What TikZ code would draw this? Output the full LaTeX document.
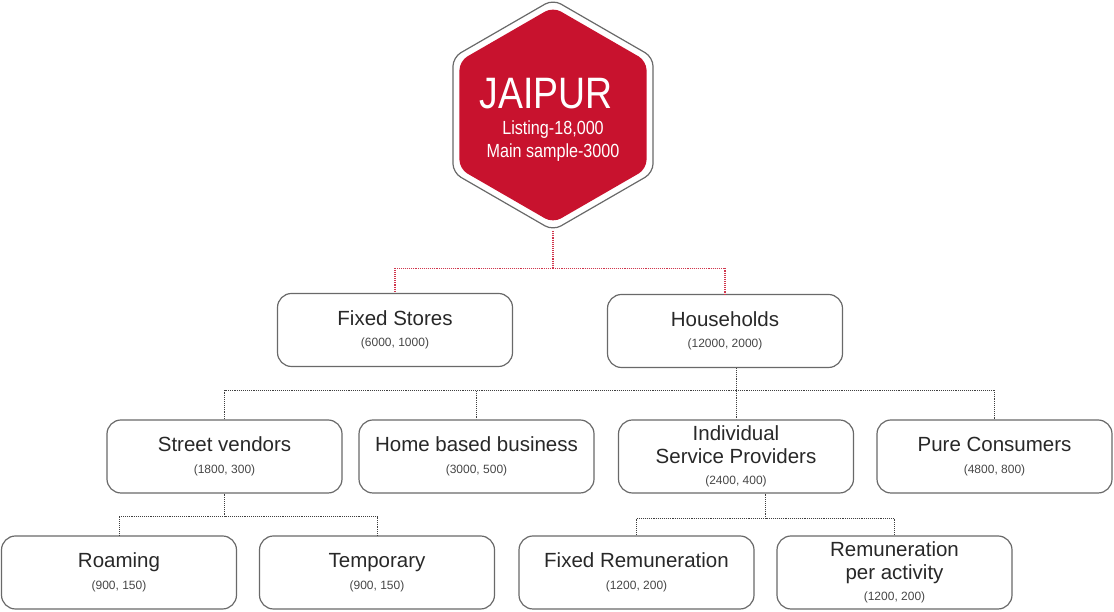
\documentclass[tikz,border=0pt]{standalone}
\usepackage{fontspec}
\setmainfont{Liberation Sans}
\newfontfamily\condfont[FakeStretch=0.85]{Liberation Sans}
\usetikzlibrary{shapes.geometric,calc}
\definecolor{jred}{RGB}{200,18,46}
\definecolor{boxline}{RGB}{105,105,105}
\definecolor{titletext}{RGB}{40,40,40}
\definecolor{numtext}{RGB}{70,70,70}
\newcommand{\nums}[1]{\\[-1pt]{\fontsize{12}{14}\selectfont\color{numtext}#1}}

\begin{document}
\begin{tikzpicture}[x=1pt,y=1pt,
    catbox/.style={draw=boxline,line width=1.2pt,rounded corners=14pt,minimum width=235pt,minimum height=73pt,align=center,text=titletext,font=\fontsize{20.5}{22.5}\selectfont,inner sep=2pt},
    hexshape/.style={regular polygon,regular polygon sides=6,shape border rotate=30,rounded corners=9pt,inner sep=0pt},
    redlink/.style={draw=jred!85,densely dotted,line width=1.1pt},
    greylink/.style={draw=black!75,densely dotted,line width=0.9pt}]
  \useasboundingbox (0,0) rectangle (1114,612);
  % city
  \node[hexshape,draw=boxline,line width=1.2pt,fill=white,minimum size=231pt] (hexo) at (553,497) {};
  \node[hexshape,fill=jred,minimum size=216pt] (hex) at (hexo) {};
  \node[align=center,text=white,font=\condfont\fontsize{19}{23}\selectfont] (city) at ($(hex)+(0,-5)$) {{\fontsize{44}{44}\selectfont JAIPUR\hspace*{14pt}}\\[3pt]Listing-18,000\\Main sample-3000};
  % first level
  \node[catbox] (fs) at (395,282) {Fixed Stores\nums{(6000, 1000)}};
  \node[catbox] (hh) at (725,281) {Households\nums{(12000, 2000)}};
  % second level
  \node[catbox] (sv) at (224.5,155.5) {Street vendors\nums{(1800, 300)}};
  \node[catbox] (hb) at (476.5,155.5) {Home based business\nums{(3000, 500)}};
  \node[catbox] (isp) at (736,155.5) {Individual\\Service Providers\nums{(2400, 400)}};
  \node[catbox] (pc) at (994.5,155.5) {Pure Consumers\nums{(4800, 800)}};
  % third level
  \node[catbox] (ro) at (119,39.5) {Roaming\nums{(900, 150)}};
  \node[catbox] (te) at (377,39.5) {Temporary\nums{(900, 150)}};
  \node[catbox] (fr) at (636.5,39.5) {Fixed Remuneration\nums{(1200, 200)}};
  \node[catbox] (rp) at (894.5,39.5) {Remuneration\\per activity\nums{(1200, 200)}};
  % links
  \coordinate (rj) at ($(hexo.south)+(0,-37)$);
  \draw[redlink] (hexo.south) -- (rj);
  \draw[redlink] (rj) -| (fs.north);
  \draw[redlink] (rj) -| (hh.north);
  \coordinate (hj) at ($(hh.south -| isp.north)+(0,-22)$);
  \draw[greylink] (hh.south -| isp.north) -- (isp.north);
  \draw[greylink] (hj) -| (sv.north);
  \draw[greylink] (hj) -| (hb.north);
  \draw[greylink] (hj) -| (pc.north);
  \coordinate (sj) at ($(sv.south)+(0,-23)$);
  \draw[greylink] (sv.south) -- (sj);
  \draw[greylink] (sj) -| (ro.north);
  \draw[greylink] (sj) -| (te.north);
  \coordinate (ij) at ($(fr.north)!0.5!(rp.north)+(0,17)$);
  \draw[greylink] (ij |- isp.south) -- (ij);
  \draw[greylink] (ij) -| (fr.north);
  \draw[greylink] (ij) -| (rp.north);
\end{tikzpicture}
\end{document}
